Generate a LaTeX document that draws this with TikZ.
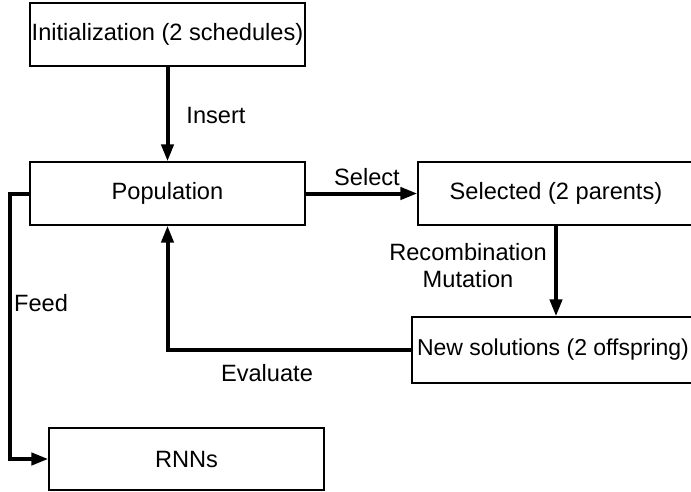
\documentclass[tikz,border=0pt]{standalone}
\usepackage{fontspec}
\setmainfont{Liberation Sans}
\usetikzlibrary{arrows.meta}
\begin{document}
\begin{tikzpicture}[x=1pt,y=-1pt,
	font=\fontsize{23.6}{27}\selectfont,
	blockbox/.style={draw,line width=1.2pt,inner sep=0pt,minimum width=275pt,minimum height=63pt},
	flowarrow/.style={line width=4pt,-{Triangle[width=12pt,length=17pt]}}]
	\useasboundingbox (0,0) rectangle (691,491);
	
	\node[blockbox] (init) at (167.5,34.5) {Initialization (2 schedules)};
	\node[blockbox] (pop) at (167.5,193.5) {Population};
	\node[blockbox,minimum width=276pt] (sel) at (556,193.5) {Selected (2 parents)};
	\node[blockbox,minimum width=282pt,minimum height=66pt,font=\fontsize{23}{27}\selectfont] (new) at (553,350) {New solutions (2 offspring)};
	\node[blockbox,minimum height=62pt] (rnn) at (186.5,459) {RNNs};
	
	\draw[flowarrow] (init) -- (pop);
	\draw[flowarrow] (pop) -- (sel);
	\draw[flowarrow] (sel.south) -- (sel.south |- new.north);
	\draw[flowarrow] (new.west) -| (pop.south);
	\draw[flowarrow] (pop.west) -- ++(-19,0) |- (rnn.west);
	
	\node (insert) at (216,115) {Insert};
	\node (select) at (367,177) {Select};
	\node[align=center] (recomb) at (468,266) {Recombination\\Mutation};
	\node (feed) at (41,303) {Feed};
	\node (eval) at (267,373) {Evaluate};
\end{tikzpicture}
\end{document}
